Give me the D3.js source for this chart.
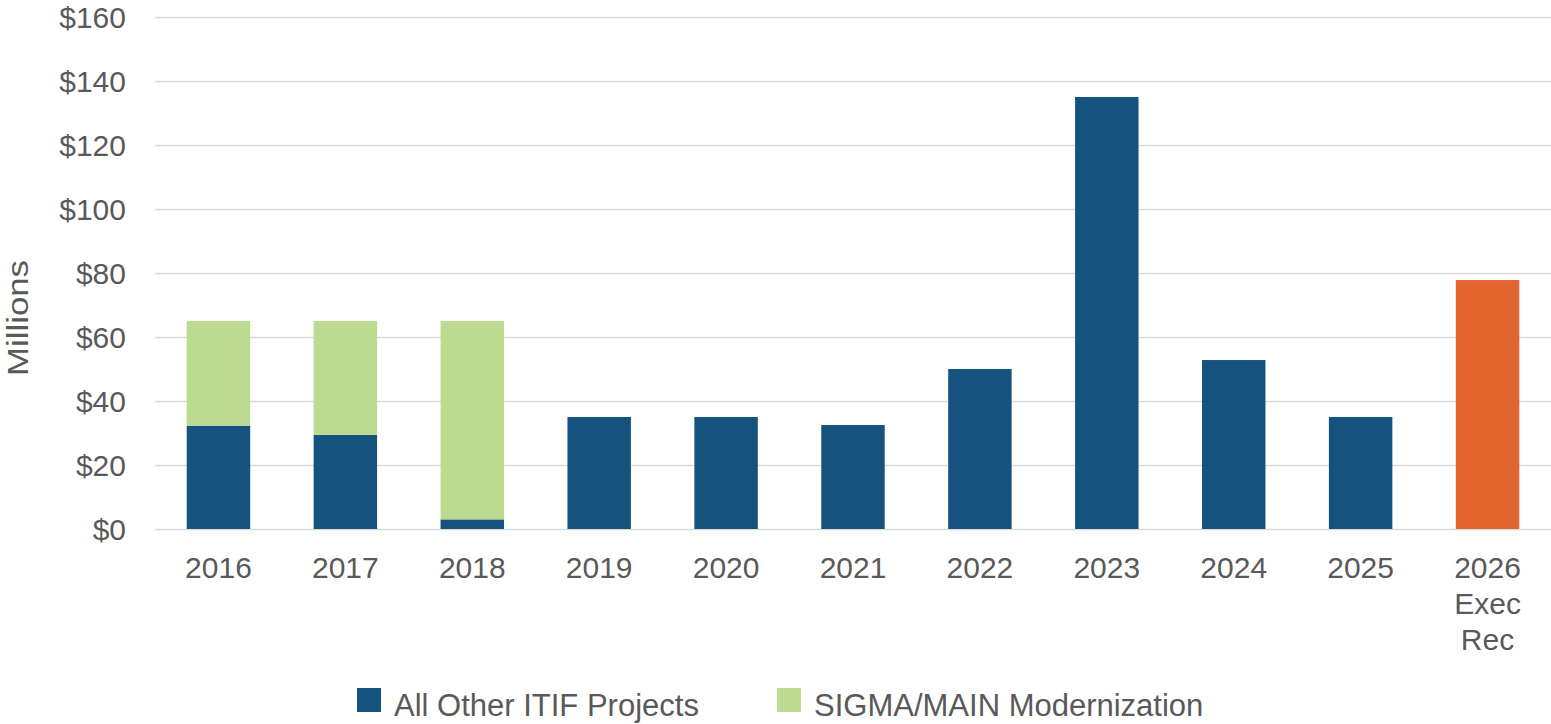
<!DOCTYPE html>
<html>
<head>
<meta charset="utf-8">
<script src="https://cdn.jsdelivr.net/npm/d3@7"></script>
<style>
  html, body { margin: 0; padding: 0; background: #ffffff; }
  svg { display: block; font-family: "Liberation Sans", Arial, sans-serif; }
</style>
</head>
<body>
<svg id="chart" width="1551" height="724"></svg>
<script>
// Fiscal years (the last one is the executive recommendation)
const categories = ["2016", "2017", "2018", "2019", "2020", "2021", "2022", "2023", "2024", "2025", "2026 Exec Rec"];
// Funding, $ millions
const allOtherProjects = [32.3, 29.4, 3.0, 35.0, 35.0, 32.5, 50.0, 135.0, 52.8, 35.0, 0];
const sigmaMainModernization = [32.7, 35.6, 62.0, 0, 0, 0, 0, 0, 0, 0, 0];
const execRecommendation = [0, 0, 0, 0, 0, 0, 0, 0, 0, 0, 77.8];
const yTicks = [0, 20, 40, 60, 80, 100, 120, 140, 160];
const legendLabels = ["All Other ITIF Projects", "SIGMA/MAIN Modernization"];

const colors = { other: "#16527e", sigma: "#bcdb91", exec: "#e2652f" };
const textColor = "#595959";

const svg = d3.select("#chart");
const margin = { left: 155, right: 0, top: 17, bottom: 195 };
const W = 1551, H = 724;

const x = d3.scaleBand()
  .domain(categories)
  .range([margin.left, W - margin.right])
  .paddingInner(0.5)
  .paddingOuter(0.25);

const y = d3.scaleLinear()
  .domain([0, 160])
  .range([H - margin.bottom, margin.top]);

// Gridlines and dollar tick labels
const yAxis = d3.axisLeft(y)
  .tickValues(yTicks)
  .tickSize(-(W - margin.right - margin.left))
  .tickPadding(29)
  .tickFormat(d => "$" + d);

const gy = svg.append("g")
  .attr("transform", `translate(${margin.left},0)`)
  .call(yAxis);
gy.select(".domain").remove();
gy.selectAll(".tick line").attr("stroke", "#d9d9d9").attr("stroke-width", 1.6);
gy.selectAll(".tick text")
  .attr("fill", textColor)
  .style("font-size", "30px")
  .attr("dy", "0.36em");

// Stacked bars
const rows = categories.map((c, i) => ({
  cat: c,
  other: allOtherProjects[i],
  sigma: sigmaMainModernization[i],
  exec: execRecommendation[i]
}));
const stack = d3.stack().keys(["other", "sigma", "exec"]);
const series = stack(rows);

svg.append("g")
  .selectAll("g")
  .data(series)
  .join("g")
  .attr("fill", s => colors[s.key])
  .selectAll("rect")
  .data(s => s.filter(d => d[1] - d[0] > 0))
  .join("rect")
  .attr("x", d => x(d.data.cat))
  .attr("width", x.bandwidth())
  .attr("y", d => y(d[1]))
  .attr("height", d => y(d[0]) - y(d[1]));

// Category labels (multi-line where needed)
const gx = svg.append("g");
categories.forEach(c => {
  const t = gx.append("text")
    .attr("text-anchor", "middle")
    .attr("fill", textColor)
    .style("font-size", "30px")
    .attr("x", x(c) + x.bandwidth() / 2)
    .attr("y", 578);
  c.split(" ").forEach((line, i) => {
    t.append("tspan")
      .attr("x", x(c) + x.bandwidth() / 2)
      .attr("dy", i === 0 ? 0 : 36)
      .text(line);
  });
});

// Axis title
svg.append("text")
  .attr("transform", "translate(28,318) rotate(-90)")
  .attr("text-anchor", "middle")
  .attr("fill", textColor)
  .style("font-size", "30px")
  .attr("textLength", 116)
  .attr("lengthAdjust", "spacingAndGlyphs")
  .text("Millions");

// Legend
const legendItems = [
  { label: legendLabels[0], color: colors.other, x: 357 },
  { label: legendLabels[1], color: colors.sigma, x: 777 }
];
const lg = svg.append("g");
legendItems.forEach(item => {
  lg.append("rect")
    .attr("x", item.x)
    .attr("y", 688)
    .attr("width", 24)
    .attr("height", 24)
    .attr("fill", item.color);
  lg.append("text")
    .attr("x", item.x + 37)
    .attr("y", 716)
    .attr("fill", textColor)
    .style("font-size", "31px")
    .text(item.label);
});
</script>
</body>
</html>
